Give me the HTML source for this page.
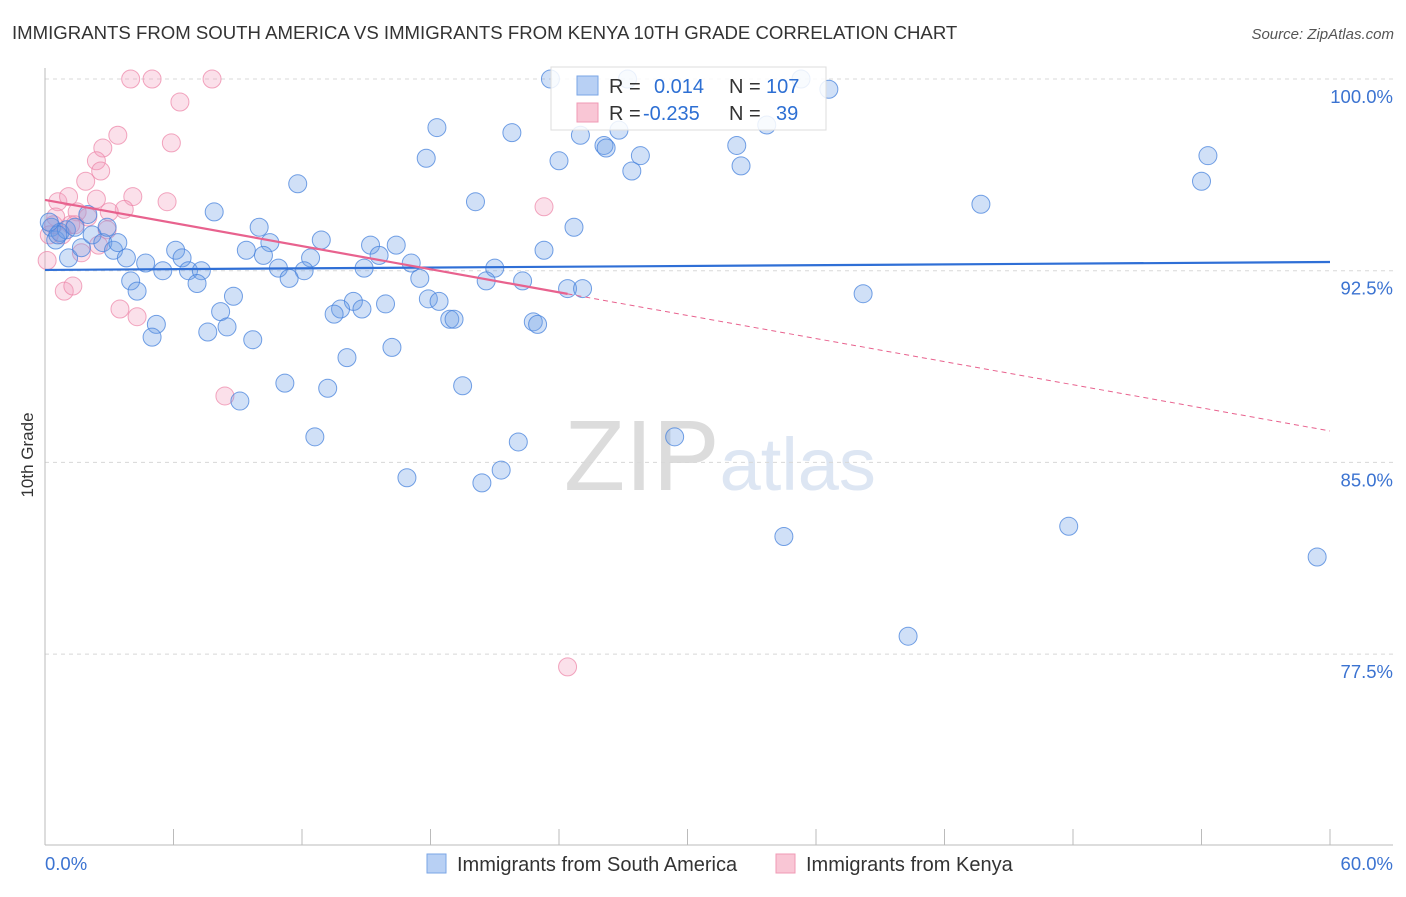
<!DOCTYPE html>
<html><head><meta charset="utf-8"><style>
body{margin:0;background:#fff;font-family:"Liberation Sans",sans-serif;}
svg text{font-family:"Liberation Sans",sans-serif;}
</style></head><body>
<svg id="chart" width="1406" height="892" xmlns="http://www.w3.org/2000/svg">
<text x="12" y="39" font-size="18.6" fill="#333">IMMIGRANTS FROM SOUTH AMERICA VS IMMIGRANTS FROM KENYA 10TH GRADE CORRELATION CHART</text>
<text x="1394" y="39" font-size="15" fill="#555" text-anchor="end" font-style="italic">Source: ZipAtlas.com</text>
<text x="720" y="490" font-size="100" text-anchor="middle" fill="#e4e4e4" font-family="Liberation Serif"><tspan fill="#dcdcdc">ZIP</tspan><tspan fill="#dde6f3" font-family="Liberation Sans" font-size="74">atlas</tspan></text>
<g id="grid"></g>
<g id="axes"></g>
<g id="marks"></g>
<text transform="translate(33,455) rotate(-90)" font-size="17" fill="#333" text-anchor="middle">10th Grade</text>
<g>
<rect x="551" y="67" width="275" height="63" fill="#fff" fill-opacity="0.85" stroke="#ddd"/>
<rect x="577" y="76" width="21" height="19" fill="#b8d0f4" stroke="#7aa6e6"/>
<rect x="577" y="103" width="21" height="19" fill="#f9c6d5" stroke="#f09ab5"/>
<text x="609" y="93" font-size="20" fill="#333">R = <tspan fill="#2d6fd3" x="654">0.014</tspan><tspan fill="#333" x="729">N = </tspan><tspan fill="#2d6fd3" x="766">107</tspan></text>
<text x="609" y="120" font-size="20" fill="#333">R = <tspan fill="#2d6fd3" x="643">-0.235</tspan><tspan fill="#333" x="729">N = </tspan><tspan fill="#2d6fd3" x="776">39</tspan></text>
</g>
<g>
<rect x="427" y="854" width="19" height="19" fill="#b8d0f4" stroke="#7aa6e6"/>
<text x="457" y="871" font-size="20" fill="#333">Immigrants from South America</text>
<rect x="776" y="854" width="19" height="19" fill="#f9c6d5" stroke="#f09ab5"/>
<text x="806" y="871" font-size="20" fill="#333">Immigrants from Kenya</text>
</g>
</svg>
<script>
const xTicks=[0,60];
const yTicks=[100,92.5,85,77.5];
const yTickLabels=["100.0%","92.5%","85.0%","77.5%"];
const xTickLabels=["0.0%","60.0%"];
const blueX=[23.6,27.2,35.3,36.6,18.3,21.8,25.0,26.8,26.1,26.2,33.7,32.3,17.8,24.0,27.8,27.4,32.5,54.3,54.0,11.8,20.1,43.7,7.9,24.7,10.0,12.9,23.3,16.4,15.2,10.5,9.4,6.1,6.4,10.2,12.4,15.6,17.1,21.0,10.9,12.1,14.9,5.5,6.7,7.3,11.4,17.5,20.6,22.3,4.0,4.3,7.1,24.4,25.1,8.8,17.9,18.4,14.4,15.9,13.8,13.5,14.8,8.2,18.9,19.1,22.8,23.0,38.2,5.2,8.5,7.6,5.0,9.7,16.2,14.1,11.2,13.2,19.5,9.1,12.6,22.1,29.4,16.9,21.3,20.4,34.5,47.8,59.4,40.3,0.3,0.5,0.7,1.0,1.1,1.4,1.7,2.0,2.2,2.7,2.9,3.2,3.4,3.8,4.7,0.6,0.2];
const blueY=[100,100,100,99.6,98.1,97.9,97.8,98.0,97.4,97.3,98.2,97.4,96.9,96.8,97.0,96.4,96.6,97.0,96.0,95.9,95.2,95.1,94.8,94.2,94.2,93.7,93.3,93.5,93.5,93.6,93.3,93.3,93.0,93.1,93.0,93.1,92.8,92.6,92.6,92.5,92.6,92.5,92.5,92.5,92.2,92.2,92.1,92.1,92.1,91.7,92.0,91.8,91.8,91.5,91.4,91.3,91.3,91.2,91.0,90.8,91.0,90.9,90.6,90.6,90.5,90.4,91.6,90.4,90.3,90.1,89.9,89.8,89.5,89.1,88.1,87.9,88.0,87.4,86.0,85.8,86.0,84.4,84.7,84.2,82.1,82.5,81.3,78.2,94.2,93.7,94.0,94.1,93.0,94.2,93.4,94.7,93.9,93.6,94.2,93.3,93.6,93.0,92.8,93.9,94.4];
const pinkX=[4.0,5.0,7.8,6.3,5.9,3.4,2.7,2.4,2.6,1.9,0.6,1.1,2.4,4.1,5.7,3.7,3.0,1.5,2.0,0.5,1.2,2.9,0.8,1.7,0.1,2.5,0.9,1.3,3.5,4.3,8.4,23.3,24.4,0.4,1.4,0.2];
const pinkY=[100,100,100,99.1,97.5,97.8,97.3,96.8,96.4,96.0,95.2,95.4,95.3,95.4,95.2,94.9,94.8,94.8,94.6,94.6,94.3,94.1,93.9,93.2,92.9,93.5,91.7,91.9,91.0,90.7,87.6,95.0,77.0,94.3,94.3,93.9];
const blueTrend=[92.53,92.84];
const pinkTrend=[95.27,86.23];
const pinkSolidEnd=24.4;

const NS="http://www.w3.org/2000/svg";
const X0=45,X1=1330,Y100=79,PX_PER=191.7/7.5;
function sx(v){return X0+(v-0)/(60-0)*(X1-X0);}
function sy(v){return Y100+(100-v)*PX_PER;}
function mk(tag,attrs,parent){const e=document.createElementNS(NS,tag);for(const k in attrs)e.setAttribute(k,attrs[k]);parent.appendChild(e);return e;}
const grid=document.getElementById('grid'),axes=document.getElementById('axes'),marks=document.getElementById('marks');
yTicks.forEach((t,i)=>{
 const l=mk('line',{x1:X0,x2:1393,y1:sy(t),y2:sy(t),stroke:'#d8d8d8','stroke-dasharray':'4,4'},grid);
 
 
 const tx=mk('text',{x:1393,y:sy(t)+24,'font-size':18.5,fill:'#3b73d1','text-anchor':'end'},axes);
 tx.textContent=yTickLabels[i];
 
 
});
const ax=mk('line',{x1:X0,x2:X0,y1:68,y2:845,stroke:'#bbb'},axes);


const bx=mk('line',{x1:X0,x2:1393,y1:845,y2:845,stroke:'#bbb'},axes);


for(let i=0;i<=10;i++){
 const t=mk('line',{x1:sx(i*6),x2:sx(i*6),y1:829,y2:845,stroke:'#bbb'},axes);
 
 
}
xTicks.forEach((v,i)=>{
 const t=mk('text',{x:i==0?45:1393,y:870,'font-size':18.5,fill:'#3b73d1','text-anchor':i==0?'start':'end'},axes);
 t.textContent=xTickLabels[i];
 
 
});
pinkX.forEach((x,i)=>{
 const c=mk('circle',{cx:sx(x),cy:sy(pinkY[i]),r:9,fill:'rgba(244,160,190,0.32)',stroke:'rgba(236,130,165,0.7)','stroke-width':1},marks);
 
 
});
blueX.forEach((x,i)=>{
 const c=mk('circle',{cx:sx(x),cy:sy(blueY[i]),r:9,fill:'rgba(110,160,230,0.32)',stroke:'rgba(70,130,220,0.75)','stroke-width':1},marks);
 
 
});
const bl=mk('line',{x1:sx(0),y1:sy(blueTrend[0]),x2:sx(60),y2:sy(blueTrend[1]),stroke:'#2f6fd6','stroke-width':2.2},marks);


const py=v=>pinkTrend[0]+(pinkTrend[1]-pinkTrend[0])*v/60;
const pl=mk('line',{x1:sx(0),y1:sy(pinkTrend[0]),x2:sx(pinkSolidEnd),y2:sy(py(pinkSolidEnd)),stroke:'#e8628e','stroke-width':2.2},marks);


const pd=mk('line',{x1:sx(pinkSolidEnd),y1:sy(py(pinkSolidEnd)),x2:sx(60),y2:sy(pinkTrend[1]),stroke:'#e8628e','stroke-width':1,'stroke-dasharray':'5,4'},marks);


</script>
</body></html>
